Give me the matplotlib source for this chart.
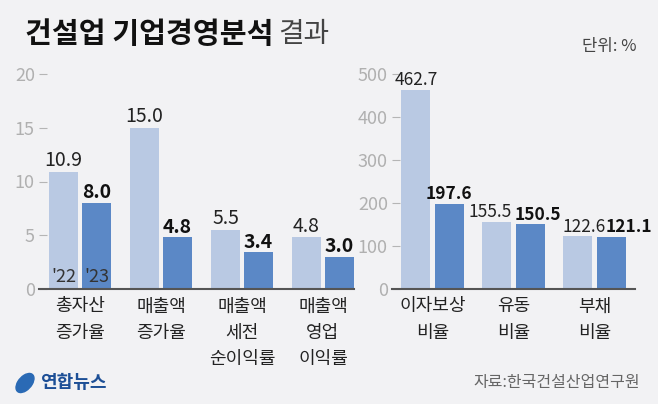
import matplotlib.pyplot as plt
from matplotlib.patches import Ellipse

plt.rcParams['font.family'] = ['Noto Sans CJK KR', 'DejaVu Sans']

# data
left_cats = ['총자산\n증가율', '매출액\n증가율', '매출액\n세전\n순이익률', '매출액\n영업\n이익률']
left_22 = [10.9, 15.0, 5.5, 4.8]
left_23 = [8.0, 4.8, 3.4, 3.0]
right_cats = ['이자보상\n비율', '유동\n비율', '부채\n비율']
right_22 = [462.7, 155.5, 122.6]
right_23 = [197.6, 150.5, 121.1]
left_ticks = [0, 5, 10, 15, 20]
right_ticks = [0, 100, 200, 300, 400, 500]
year_labels = ["'22", "'23"]

BG = '#f2f2f4'
LIGHT = '#b9c9e3'
DARK = '#5b88c6'
W, H = 658, 404
AX_H = 215  # axes height in px

fig = plt.figure(figsize=(W / 100, H / 100), dpi=100, facecolor=BG)


def draw_panel(rect, cats, v22, v23, ticks, xlim, fmt, vsize, first=False):
    ax = fig.add_axes(rect)
    ax.set_facecolor(BG)
    x = list(range(len(cats)))
    bw = 0.358
    off = 0.204
    ax.bar([i - off for i in x], v22, bw, color=LIGHT)
    ax.bar([i + off for i in x], v23, bw, color=DARK)
    ymax = ticks[-1]
    lab_h = ymax * 16 / AX_H  # label height in data units
    labels = []
    for i in x:
        a, b = v22[i], v23[i]
        if abs(a - b) < lab_h:
            # labels at nearly the same height: push them apart from the pair centre
            pa = dict(xy=(i, a), xytext=(-1, 0.5), ha='right')
            pb = dict(xy=(i, b), xytext=(1, 0.5), ha='left')
        else:
            pa = dict(xy=(i - off, a), xytext=(0, 0.5), ha='center')
            pb = dict(xy=(i + off, b), xytext=(0, 0.5), ha='center')
        labels.append(ax.annotate(fmt.format(a), textcoords='offset points', va='bottom',
                                  fontsize=vsize, color='#222222', annotation_clip=False, **pa))
        labels.append(ax.annotate(fmt.format(b), textcoords='offset points', va='bottom',
                                  fontsize=vsize, fontweight='bold', color='#111111',
                                  annotation_clip=False, **pb))
    if first:
        ax.text(-off, ymax * 0.055, year_labels[0], ha='center', va='center',
                fontsize=13, color='#333333')
        ax.text(off, ymax * 0.055, year_labels[1], ha='center', va='center',
                fontsize=13, color='#333333')
    ax.set_xlim(*xlim)
    ax.set_ylim(ticks[0], ymax)
    ax.set_yticks(ticks)
    ax.set_yticklabels([str(t) for t in ticks])
    ax.set_xticks(x)
    ax.set_xticklabels(cats, fontsize=13, color='#222222', linespacing=1.6, va='top')
    for s in ['top', 'right', 'left']:
        ax.spines[s].set_visible(False)
    ax.spines['bottom'].set_color('#555555')
    ax.spines['bottom'].set_linewidth(1.5)
    ax.tick_params(axis='y', direction='in', length=6, width=0.8, color='#b5b5b5',
                   labelcolor='#b0b0b0', labelsize=13, pad=3)
    ax.tick_params(axis='x', length=0, pad=6)
    return labels


# shift value labels to the right until they stop colliding
def nudge(labels):
    fig.canvas.draw()
    r = fig.canvas.get_renderer()
    placed = []
    for t in sorted(labels, key=lambda t: t.get_window_extent(r).x0):
        bb = t.get_window_extent(r)
        for p in placed:
            if bb.overlaps(p):
                dx = p.x1 - bb.x0 + 0.5
                ox, oy = t.xyann
                t.xyann = (ox + dx * 72 / fig.dpi, oy)
                bb = t.get_window_extent(r)
        placed.append(bb)


left_labels = draw_panel([39 / W, 115 / H, 315 / W, AX_H / H], left_cats, left_22, left_23,
                         left_ticks, (-0.506, 3.383), '{:.1f}', 14, first=True)
right_labels = draw_panel([392 / W, 115 / H, 243 / W, AX_H / H], right_cats, right_22, right_23,
                          right_ticks, (-0.5, 2.5), '{:.1f}', 12.5)
nudge(left_labels)
nudge(right_labels)

# title and notes
fig.text(25 / W, 1 - 34 / H, '건설업 기업경영분석', fontsize=21, fontweight='bold',
         color='#111111', va='center', ha='left')
fig.text(278 / W, 1 - 34 / H, '결과', fontsize=20, fontweight='light', color='#444444',
         va='center', ha='left')
fig.text(636 / W, 1 - 46 / H, '단위: %', fontsize=12, color='#444444', va='center', ha='right')
fig.text(640 / W, 1 - 382 / H, '자료:한국건설산업연구원', fontsize=11.5, color='#666666',
         va='center', ha='right')

# logo
fig.patches.append(Ellipse((25 / W, 1 - 383 / H), 15 / W, 20 / H, angle=-20,
                           transform=fig.transFigure, color='#2a6ab5'))
fig.text(40 / W, 1 - 383 / H, '연합뉴스', fontsize=13, fontweight='bold', color='#1d4f96',
         va='center', ha='left')

fig.savefig('out.png', dpi=100, facecolor=BG)
